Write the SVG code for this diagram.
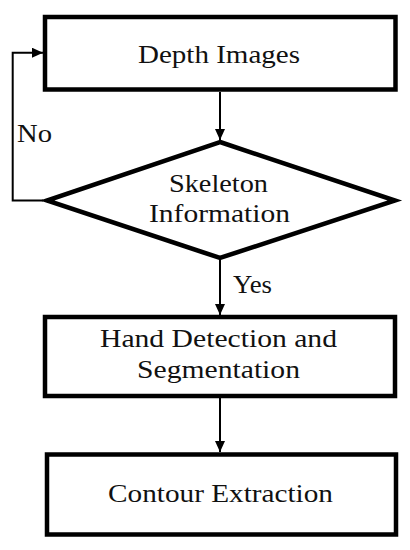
<svg xmlns="http://www.w3.org/2000/svg" width="410" height="550" viewBox="0 0 410 550">
<style>
.box{fill:#fff;stroke:#000;stroke-width:4.5}
.con{fill:none;stroke:#000;stroke-width:2}
.t{font-family:"Liberation Serif","Times New Roman",serif;font-size:25px;fill:#111}
.c{text-anchor:middle}
</style>
<defs>
<marker id="ah" markerUnits="userSpaceOnUse" markerWidth="11" markerHeight="10" refX="11" refY="5" orient="auto">
<path d="M0,0 L11,5 L0,10 z" fill="#000"/>
</marker>
</defs>
<g id="connectors">
<line class="con" x1="220" y1="92" x2="220" y2="140" marker-end="url(#ah)"/>
<line class="con" x1="220" y1="259" x2="220" y2="315" marker-end="url(#ah)"/>
<line class="con" x1="220" y1="398" x2="220" y2="452" marker-end="url(#ah)"/>
<polyline class="con" points="43,200.5 12.7,200.5 12.7,52.7 43,52.7" marker-end="url(#ah)"/>
<text class="t" x="17" y="142" textLength="35" lengthAdjust="spacingAndGlyphs">No</text>
<text class="t" x="233" y="293" textLength="39" lengthAdjust="spacingAndGlyphs">Yes</text>
</g>
<g id="depth">
<rect class="box" x="45" y="17" width="350.5" height="72.5"/>
<text class="t c" x="219" y="63" textLength="162" lengthAdjust="spacingAndGlyphs">Depth Images</text>
</g>
<g id="skeleton">
<polygon class="box" points="220,142 395,200.5 220,258 47,200.5"/>
<text class="t c" x="218.5" y="192" textLength="99" lengthAdjust="spacingAndGlyphs">Skeleton</text>
<text class="t c" x="219.5" y="222" textLength="141" lengthAdjust="spacingAndGlyphs">Information</text>
</g>
<g id="hand">
<rect class="box" x="45" y="317" width="350" height="79"/>
<text class="t c" x="218.5" y="347" textLength="237" lengthAdjust="spacingAndGlyphs">Hand Detection and</text>
<text class="t c" x="218.5" y="378" textLength="163" lengthAdjust="spacingAndGlyphs">Segmentation</text>
</g>
<g id="contour">
<rect class="box" x="47" y="454.5" width="349" height="80"/>
<text class="t c" x="220.5" y="502" textLength="225" lengthAdjust="spacingAndGlyphs">Contour Extraction</text>
</g>
</svg>
